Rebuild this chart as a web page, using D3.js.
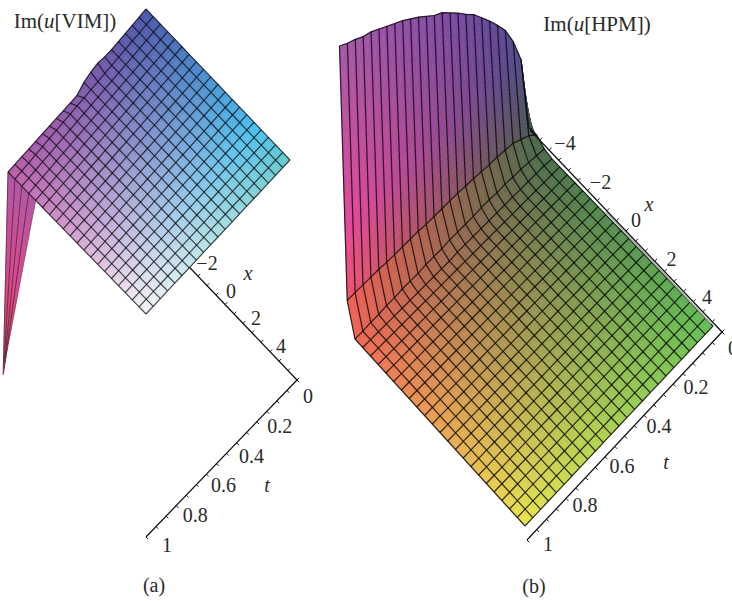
<!DOCTYPE html>
<html>
<head>
<meta charset="utf-8">
<script src="https://cdn.jsdelivr.net/npm/d3@7"></script>
<style>
  body { margin: 0; background: #fff; }
  text { font-family: "Liberation Serif", serif; fill: #2a2a2a; }
</style>
</head>
<body>
<script>
// grid sizes of the two surfaces (x rows, t columns)
const vimRowCount = 20, vimColCount = 20;
const hpmRowCount = 24, hpmColCount = 24;

// VIM: height of the x = -5 edge along t, everything else sits flat
const vimEdgeZ = [0, 0, 0, 0, 0, 0, 0.01, 0.03, 0.02, 0, -0.05, -0.045, -0.04, -0.035, -0.03, -0.025, -0.02, -0.015, -0.01, -0.005, 0];
// VIM: the spike hanging from t = 1, first rows only
const vimSpikeX = [-5, -4.97, -4.94, -4.91, -4.88];
const vimSpikeZ = [-1.97, -1.94, -1.9, -1.87, -1.83];

// HPM: first rows of the surface along t, the rest is flat
const hpmEdgeZ = [0.07, 0.83, 1.09, 1.28, 1.41, 1.53, 1.64, 1.75, 1.83, 1.92, 2.0, 2.08, 2.13, 2.2, 2.27, 2.33, 2.39, 2.44, 2.49, 2.54, 2.59, 2.62, 2.67, 2.71, 2.76];
const hpmRow1Z = [0.08, 0.15, 0.19, 0.23, 0.24, 0.25, 0.25, 0.26, 0.27, 0.27, 0.28, 0.28, 0.28, 0.28, 0.28, 0.29, 0.29, 0.29, 0.29, 0.29, 0.3, 0.3, 0.3, 0.3, 0.3];
const hpmRow2Z = [0.02, 0.03, 0.04, 0.05, 0.05, 0.06, 0.05, 0.06, 0.06, 0.05, 0.05, 0.05, 0.05, 0.04, 0.04, 0.04, 0.03, 0.03, 0.03, 0.02, 0.02, 0.01, 0.01, 0, 0];
const hpmRow3Z = [0, 0.01, 0.01, 0.01, 0.01, 0.01, 0.01, 0.01, 0.01, 0.01, 0.01, 0.01, 0.01, 0, 0, 0, 0, 0, 0, 0, 0, 0, 0, 0, 0];

const xTickLabels = [-2, 0, 2, 4];
const xTickLabelsB = [-4, -2, 0, 2, 4];
const tTickLabels = [0, 0.2, 0.4, 0.6, 0.8, 1];

const width = 732, height = 601;
const svg = d3.select("body").append("svg").attr("width", width).attr("height", height);

const xNorm = d3.scaleLinear([-5, 5], [0, 1]);
const zScale = d3.scaleLinear([0, 3], [0, -300]);

// screen position from the four corners of the flat sheet
function makeProjection(c) {
  const topX = d3.scaleLinear([0, 1], [c.t0xm[0], c.t0xp[0]]);
  const topY = d3.scaleLinear([0, 1], [c.t0xm[1], c.t0xp[1]]);
  const botX = d3.scaleLinear([0, 1], [c.t1xm[0], c.t1xp[0]]);
  const botY = d3.scaleLinear([0, 1], [c.t1xm[1], c.t1xp[1]]);
  return (x, t, z) => {
    const u = xNorm(x);
    return [
      topX(u) + (botX(u) - topX(u)) * t,
      topY(u) + (botY(u) - topY(u)) * t + zScale(z),
    ];
  };
}

const lerp = (a, b, f) => a + (b - a) * f;

// fill one strip of quads, subdivided so the colours run smoothly
function shadeCell(g, p00, p01, p10, p11, nu, nv, colorAt) {
  const at = (a, b) => [
    lerp(lerp(p00[0], p01[0], b), lerp(p10[0], p11[0], b), a),
    lerp(lerp(p00[1], p01[1], b), lerp(p10[1], p11[1], b), a),
  ];
  for (let a = 0; a < nu; a++) {
    for (let b = 0; b < nv; b++) {
      const c = colorAt((a + 0.5) / nu, (b + 0.5) / nv);
      const pts = [at(a / nu, b / nv), at(a / nu, (b + 1) / nv), at((a + 1) / nu, (b + 1) / nv), at((a + 1) / nu, b / nv)];
      g.append("path")
        .attr("d", "M" + pts.join("L") + "Z")
        .attr("fill", c)
        .attr("stroke", c)
        .attr("stroke-width", 0.6);
    }
  }
}

const lineGen = d3.line();

function drawMeshLines(g, pts, opacity) {
  pts.forEach((row) => {
    g.append("path").attr("d", lineGen(row)).attr("fill", "none")
      .attr("stroke", "#050505").attr("stroke-opacity", opacity).attr("stroke-width", 1.2);
  });
  d3.range(pts[0].length).forEach((j) => {
    g.append("path").attr("d", lineGen(pts.map((r) => r[j]))).attr("fill", "none")
      .attr("stroke", "#050505").attr("stroke-opacity", opacity).attr("stroke-width", 1.2);
  });
}

function sheetColor(c) {
  const a = d3.scaleLinear([0, 1], [c.t0xm, c.t0xp]);
  const b = d3.scaleLinear([0, 1], [c.t1xm, c.t1xp]);
  return (u, t) => d3.interpolateRgb(a(u), b(u))(t);
}

function drawAxis(g, pos, from, to, step, tickDir) {
  g.append("path").attr("d", lineGen([pos(from), pos(to)]))
    .attr("stroke", "#111").attr("stroke-width", 1.25).attr("fill", "none");
  d3.range(from, to + step / 2, step).forEach((v) => {
    const p = pos(v);
    g.append("path").attr("d", lineGen([p, [p[0] + tickDir[0], p[1] + tickDir[1]]]))
      .attr("stroke", "#111").attr("stroke-width", 1).attr("fill", "none");
  });
}

function drawLabel(x, y, str, italic) {
  svg.append("text").attr("x", x).attr("y", y).attr("text-anchor", "middle")
    .attr("dominant-baseline", "central").attr("font-size", 20)
    .attr("font-style", italic ? "italic" : "normal").text(str);
}

function drawTitle(x, y, name) {
  const t = svg.append("text").attr("x", x).attr("y", y).attr("text-anchor", "middle")
    .attr("dominant-baseline", "central").attr("font-size", 21);
  t.append("tspan").text("Im(");
  t.append("tspan").attr("font-style", "italic").text("u");
  t.append("tspan").text("[" + name + "])");
}

const minus = (v) => String(v).replace("-", "\u2212");

// ---------- panel (a) ----------
const gA = svg.append("g");
const vimCorners = { t0xm: [146, 9], t0xp: [290, 160], t1xm: [8, 172], t1xp: [146, 314] };
const vimProj = makeProjection(vimCorners);
const vimAxisX = d3.scaleLinear([-5, 5], [153, 297]);
const vimAxisY = d3.scaleLinear([-5, 5], [229, 380]);
const vimAxisTX = d3.scaleLinear([0, 1], [297, 146]);
const vimAxisTY = d3.scaleLinear([0, 1], [380, 537]);

drawAxis(gA, (v) => [vimAxisX(v), vimAxisY(v)], -5, 5, 0.625, [2.2, -2.2]);
drawAxis(gA, (v) => [vimAxisTX(v), vimAxisTY(v)], 0, 1, 1 / 15, [2.2, 2.2]);

const vimX = d3.range(vimRowCount + 1).map((i) => -5 + (10 * i) / vimRowCount);
const vimT = d3.range(vimColCount + 1).map((j) => j / vimColCount);
const vimPts = vimX.map((x, i) => vimT.map((t, j) => vimProj(x, t, i === 0 ? vimEdgeZ[j] : 0)));

// spike goes behind the sheet
const spikeTop = vimSpikeX.map((d, i) => vimPts[i][vimColCount]);
const spikeBottom = vimSpikeX.map((x, i) => vimProj(x, 1.035, vimSpikeZ[i]));
const spikeColor = d3.scaleLinear([0, -1, -2], ["#b456a6", "#da468c", "#e83e5c"]);
d3.range(vimSpikeX.length - 1).forEach((i) => {
  shadeCell(gA, spikeTop[i], spikeTop[i + 1], spikeBottom[i], spikeBottom[i + 1], 24, 1, (a) => spikeColor(lerp(0, vimSpikeZ[i], a)));
  gA.append("path").attr("d", lineGen([spikeTop[i], spikeBottom[i]])).attr("stroke", "#222").attr("stroke-opacity", 0.8).attr("stroke-width", 0.8);
});
gA.append("path").attr("d", lineGen([spikeTop[4], spikeBottom[4]])).attr("stroke", "#333").attr("stroke-opacity", 0.6).attr("stroke-width", 0.6);

// the t = 0 edge peaks in cyan before the teal corner
const vimEdgeT0 = d3.scaleLinear([0, 0.78, 1], ["#4a55aa", "#48c0ee", "#64c8cc"]);
const vimEdgeT1 = d3.scaleLinear([0, 1], ["#b95aaa", "#f6f6fa"]);
d3.range(vimRowCount).forEach((i) => {
  d3.range(vimColCount).forEach((j) => {
    shadeCell(gA, vimPts[i][j], vimPts[i][j + 1], vimPts[i + 1][j], vimPts[i + 1][j + 1], 2, 2, (a, b) => {
      const u = (i + a) / vimRowCount, t = (j + b) / vimColCount;
      return d3.interpolateRgb(vimEdgeT0(u), vimEdgeT1(u))(t);
    });
  });
});
drawMeshLines(gA, vimPts, 0.72);

[[-2, 207, 263], [0, 231, 291], [2, 256, 318], [4, 281, 346]].forEach((d) => drawLabel(d[1], d[2], minus(d[0])));
drawLabel(248, 273, "x", true);
tTickLabels.forEach((v) => {
  drawLabel(d3.scaleLinear([0, 1], [308, 167])(v), d3.scaleLinear([0, 1], [396, 545])(v), String(v));
});
drawLabel(267, 485, "t", true);
drawLabel(154, 585, "(a)");
drawTitle(65, 21, "VIM");

// ---------- panel (b) ----------
const gB = svg.append("g");
const hpmCorners = { t0xm: [529, 135], t0xp: [713, 326], t1xm: [339.5, 322], t1xp: [525, 526] };
const hpmProj = makeProjection(hpmCorners);
const hpmRows = [hpmEdgeZ, hpmRow1Z, hpmRow2Z, hpmRow3Z];
const hpmX = d3.range(hpmRowCount + 1).map((i) => -5 + (10 * i) / hpmRowCount);
const hpmT = d3.range(hpmColCount + 1).map((j) => j / hpmColCount);
const hpmPts = hpmX.map((x, i) => hpmT.map((t, j) => hpmProj(x, t, hpmRows[i] ? hpmRows[i][j] : 0)));

const hpmCol = sheetColor({ t0xm: "#46644b", t0xp: "#64be55", t1xm: "#f05a55", t1xp: "#e8e450" });
const wallLow = d3.scaleLinear([0, 1], ["#465a4b", "#f05858"]);
const wallMid = d3.scaleLinear([0, 1], ["#46488c", "#e84898"]);
const wallTop = d3.scaleLinear([0, 1], ["#4c46b9", "#a558a5"]);
function wallColor(t, z) {
  const h = z / 2.76;
  if (h < 0.35) return d3.interpolateRgb(wallLow(t), wallMid(t))(h / 0.35);
  return d3.interpolateRgb(wallMid(t), wallTop(t))((h - 0.35) / 0.65);
}

// the raised rows, then the flat sheet
d3.range(hpmRowCount).forEach((i) => {
  d3.range(hpmColCount).forEach((j) => {
    const raised = i < 1;
    const nu = raised ? 28 : 2;
    const rowA = hpmRows[i] || [], rowB = hpmRows[i + 1] || [];
    shadeCell(gB, hpmPts[i][j], hpmPts[i][j + 1], hpmPts[i + 1][j], hpmPts[i + 1][j + 1], nu, 2, (a, b) => {
      const t = (j + b) / hpmColCount;
      if (!raised) return hpmCol((i + a) / hpmRowCount, t);
      const z = lerp(lerp(rowA[j], rowA[j + 1], b), lerp(rowB[j], rowB[j + 1], b), a);
      return wallColor(t, z);
    });
  });
});
drawMeshLines(gB, hpmPts, 0.8);

const hpmAxisX = d3.scaleLinear([-5, 5], [530, 722]);
const hpmAxisY = d3.scaleLinear([-5, 5], [130, 332]);
const hpmAxisTX = d3.scaleLinear([0, 1], [722, 527]);
const hpmAxisTY = d3.scaleLinear([0, 1], [332, 540]);
gB.append("path").attr("d", lineGen([[hpmAxisX(-1) - 1, hpmAxisY(-1) + 1], [hpmAxisX(4.5) - 1.5, hpmAxisY(4.5) + 1.5]]))
  .attr("stroke", "#aaa").attr("stroke-width", 1.5);
drawAxis(gB, (v) => [hpmAxisX(v), hpmAxisY(v)], -5, 5, 0.5, [2.4, -2.4]);
drawAxis(gB, (v) => [hpmAxisTX(v), hpmAxisTY(v)], 0, 1, 0.05, [2.4, 2.4]);

xTickLabelsB.forEach((v) => {
  drawLabel(d3.scaleLinear([-4, 4], [565, 707])(v), d3.scaleLinear([-4, 4], [143, 297])(v), minus(v));
});
drawLabel(649, 204, "x", true);
tTickLabels.forEach((v) => {
  drawLabel(d3.scaleLinear([0, 1], [733, 548])(v), d3.scaleLinear([0, 1], [348, 544])(v), String(v));
});
drawLabel(666, 462, "t", true);
drawLabel(534, 586, "(b)");
drawTitle(597, 24, "HPM");
</script>
</body>
</html>
